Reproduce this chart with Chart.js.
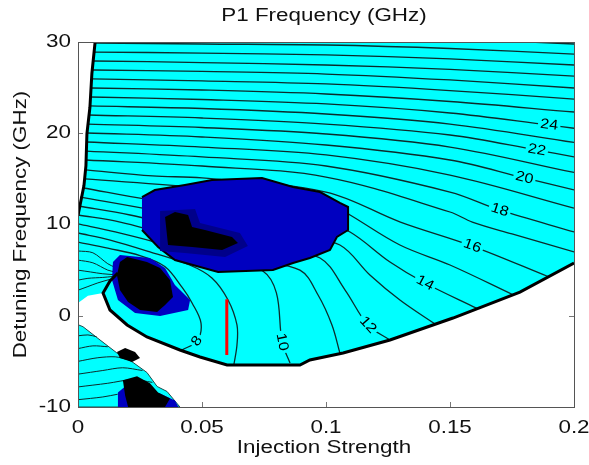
<!DOCTYPE html>
<html>
<head>
<meta charset="utf-8">
<title>P1 Frequency (GHz)</title>
<script src="https://cdn.jsdelivr.net/npm/chart.js@4.4.1/dist/chart.umd.min.js"></script>
<style>
    html, body { margin: 0; padding: 0; background: #ffffff; }
    #wrap { width: 589px; height: 465px; position: relative; }
</style>
</head>
<body>
<div id="wrap"><canvas id="p1Canvas"></canvas></div>
<script>
// axes
const xTicks = [0, 0.05, 0.1, 0.15, 0.2];
const xTickLabels = ['0', '0.05', '0.1', '0.15', '0.2'];
const yTicks = [-10, 0, 10, 20, 30];
const yTickLabels = ['-10', '0', '10', '20', '30'];

// locked (P1) region, points are [injection strength, detuning GHz]
const cyanUpper = [[0.0069,30],[0.0056,26.55],[0.0048,22.82],[0.0036,19.97],[0.0032,16.46],[0.0024,14.27],[0.0008,12.08],[0,10.99],
    [0,1.4],[0.004,2.2],[0.0101,2.49],[0.0129,0.63],[0.0198,-1.01],[0.0278,-2.33],[0.0411,-3.75],[0.0492,-4.52],[0.0601,-5.4],
    [0.0895,-5.4],[0.0935,-4.85],[0.1069,-4.08],[0.1258,-2.66],[0.1512,-0.25],[0.1782,2.6],[0.2,5.78],[0.2,30]];
const cyanLower = [[0,-0.98],[0.002,-1.2],[0.0089,-2.66],[0.0157,-4.08],[0.0222,-5.12],[0.0278,-6.22],[0.0319,-7.75],
    [0.0359,-8.3],[0.0411,-10],[0,-10]];

// region boundaries
const edgeLeft = [[0.0069,30],[0.0056,26.55],[0.0048,22.82],[0.0036,19.97],[0.0032,16.46],[0.0024,14.27],[0.0008,12.08],[0,10.99]];
const edgeLower = [[0.0161,4.69],[0.0129,3.81],[0.0101,2.49],[0.0129,0.63],[0.0198,-1.01],[0.0278,-2.33],[0.0411,-3.75],
    [0.0492,-4.52],[0.0601,-5.4],[0.0895,-5.4],[0.0935,-4.85],[0.1069,-4.08],[0.1258,-2.66],[0.1512,-0.25],[0.1782,2.6],[0.2,5.78]];

// other dynamics (blue) and chaos (black) patches
const blobBlue = [[0.0258,13.01],[0.031,13.78],[0.0431,14.33],[0.054,14.88],[0.0742,15.1],[0.0867,14.11],[0.0976,13.56],
    [0.1056,12.36],[0.1089,11.92],[0.1089,9.4],[0.1044,8.63],[0.1016,7.2],[0.0935,6.33],[0.0867,5.78],[0.0786,5.01],
    [0.0565,4.79],[0.0391,6.11],[0.0323,7.53],[0.0258,9.4]];
const blobDark = [[0.0331,11.48],[0.0472,11.7],[0.0492,10.16],[0.0653,9.07],[0.0685,7.64],[0.0593,6.44],[0.0431,6.88],[0.0331,7.09]];
const blobBlack = [[0.0351,10.82],[0.0391,11.37],[0.0444,11.04],[0.046,9.73],[0.0512,9.4],[0.0621,8.63],[0.0645,7.97],
    [0.0581,7.2],[0.046,7.53],[0.0363,7.75]];
const pocketBlue = [[0.0169,6.66],[0.029,6.33],[0.0351,5.23],[0.0391,3.37],[0.0452,1.73],[0.0444,0.63],[0.0331,-0.03],
    [0.023,0.3],[0.0161,1.73],[0.0137,3.92],[0.0141,5.89]];
const pocketBlack = [[0.0198,6.44],[0.0278,5.89],[0.0331,5.23],[0.0371,3.92],[0.0383,2.06],[0.0351,1.18],[0.0319,0.41],
    [0.025,0.63],[0.0202,1.5],[0.0169,2.82],[0.0157,4.46],[0.0169,5.89]];
const baseBlue = [[0.0161,-8.41],[0.019,-7.75],[0.0331,-8.52],[0.0391,-9.29],[0.0405,-10],[0.0161,-10]];
const baseBlack = [[0.0181,-7.07],[0.0238,-6.63],[0.029,-7.4],[0.0323,-8.41],[0.0371,-9.07],[0.0351,-10],[0.0202,-10],[0.019,-8.74]];
const baseBit = [[0.0157,-3.97],[0.019,-3.53],[0.023,-3.97],[0.025,-4.63],[0.0218,-5.07],[0.0169,-4.63]];

// P1 frequency contours (GHz)
const level8 = [[0,8.08],[0.012,7.4],[0.025,6.6],[0.035,5.4],[0.042,3.1],[0.046,1.4],[0.0496,-0.8],[0.048,-2.77],[0.0419,-3.75]];
const level9 = [[0,9.07],[0.013,8.3],[0.029,7.0],[0.045,5.56],[0.054,4.14],[0.0605,1.73],[0.0641,-1.01],[0.0641,-3.21],[0.0629,-5.29]];
const level10 = [[0,10.06],[0.015,9.18],[0.035,7.8],[0.06,6.0],[0.0745,4.9],[0.08,2.5],[0.0823,-2.88],[0.0855,-5.18]];
const level11 = [[0,11.04],[0.017,10.27],[0.041,8.52],[0.07,6.11],[0.0895,5.0],[0.0968,2.27],[0.1024,-1.01],[0.1056,-4.08]];
const level12 = [[0,12.03],[0.021,11.04],[0.049,9.18],[0.08,7.0],[0.0976,6.33],[0.1077,2.82],[0.1169,-1.01],[0.1258,-2.66]];
const level13 = [[0.0008,13.01],[0.03,11.59],[0.06,9.95],[0.09,8.5],[0.1056,7.75],[0.1177,4.47],[0.1298,1.73],[0.144,-0.91]];
const level14 = [[0.0024,14.0],[0.029,12.69],[0.05,12.0],[0.1,10.0],[0.1097,9.18],[0.1258,5.89],[0.1399,3.59],[0.1609,0.8]];
const level15 = [[0.0028,14.99],[0.05,14.0],[0.1,12.5],[0.1097,11.04],[0.1298,7.75],[0.15,5.56],[0.1754,2.3]];
const level16 = [[0.0032,15.98],[0.03,15.32],[0.05,15.1],[0.1,13.56],[0.13,10.27],[0.159,7.64],[0.1895,4.3]];
const level17 = [[0.0032,17.07],[0.05,16.41],[0.1,15.2],[0.15,11.37],[0.159,10.26],[0.175,8.96],[0.2,7.0]];
const level18 = [[0.0034,18.05],[0.05,17.4],[0.1,16.41],[0.15,13.56],[0.17,11.59],[0.2,9.18]];
const level19 = [[0.0036,19.04],[0.05,18.49],[0.1,17.62],[0.15,15.42],[0.2,11.8]];
const level20 = [[0.0036,20.03],[0.05,19.59],[0.1,18.71],[0.15,17.07],[0.18,15.1],[0.2,13.8]];
const level21 = [[0.004,21.01],[0.05,20.63],[0.1,19.92],[0.15,18.49],[0.2,15.7]];
const level22 = [[0.0044,22.0],[0.05,21.67],[0.1,21.01],[0.15,19.81],[0.185,18.16],[0.2,17.4]];
const level23 = [[0.0048,22.99],[0.05,22.71],[0.1,22.11],[0.15,21.01],[0.2,19.0]];
const level24 = [[0.005,23.97],[0.05,23.7],[0.1,23.21],[0.15,22.22],[0.19,20.9],[0.2,20.55]];
const level25 = [[0.0052,24.96],[0.05,24.74],[0.1,24.3],[0.15,23.48],[0.2,22.33]];
const level26 = [[0.0056,25.95],[0.05,25.73],[0.1,25.4],[0.15,24.68],[0.2,23.75]];
const level27 = [[0.006,26.93],[0.05,26.77],[0.1,26.49],[0.15,25.84],[0.2,24.96]];
const level28 = [[0.0063,27.92],[0.05,27.75],[0.1,27.48],[0.15,26.99],[0.2,26.27]];
const level29 = [[0.0065,28.9],[0.05,28.79],[0.1,28.58],[0.15,28.14],[0.2,27.48]];
const level30 = [[0.0069,29.89],[0.05,29.78],[0.1,29.67],[0.15,29.29],[0.2,28.68]];
const level31 = [[0.1,30.7],[0.15,30.35],[0.2,29.78]];

// short unlabeled contour pieces near the left edge
const fanUpper1 = [[0,7.1],[0.006,6.9],[0.012,5.7],[0.015,5.3]];
const fanUpper2 = [[0,6.1],[0.006,5.8],[0.012,5.0],[0.015,4.8]];
const fanUpper3 = [[0,5.0],[0.005,4.8],[0.01,4.6],[0.015,4.5]];
const fanUpper4 = [[0,3.9],[0.004,4.1],[0.01,4.2],[0.014,4.3]];
const fanUpper5 = [[0,2.8],[0.004,3.2],[0.008,3.6],[0.013,4.0]];
const fanLower1 = [[0,-2.2],[0.004,-2.1],[0.0075,-2.3]];
const fanLower2 = [[0,-3.6],[0.006,-3.3],[0.012,-3.4]];
const fanLower3 = [[0,-5.0],[0.008,-4.6],[0.015,-4.5],[0.02,-4.8]];
const fanLower4 = [[0,-6.4],[0.01,-6.0],[0.018,-5.7],[0.026,-6.0]];
const fanLower5 = [[0,-7.8],[0.012,-7.4],[0.022,-7.0],[0.03,-7.3]];
const fanLower6 = [[0,-9.2],[0.01,-8.9],[0.016,-8.6]];

const contourLevels = [8, 9, 10, 11, 12, 13, 14, 15, 16, 17, 18, 19, 20, 21, 22, 23, 24, 25, 26, 27, 28, 29, 30, 31];
const contourPaths = [level8, level9, level10, level11, level12, level13, level14, level15, level16, level17, level18,
    level19, level20, level21, level22, level23, level24, level25, level26, level27, level28, level29, level30, level31];
const fanPaths = [fanUpper1, fanUpper2, fanUpper3, fanUpper4, fanUpper5,
    fanLower1, fanLower2, fanLower3, fanLower4, fanLower5, fanLower6];

// inline labels: level and the point of its path where the label sits
const labelLevels = [8, 10, 12, 14, 16, 18, 20, 22, 24];
const labelPointIndex = [7, 6, 6, 6, 5, 4, 4, 4, 4];

// operating point marker
const markerX = [0.06, 0.06];
const markerY = [1.8, -4.3];

const CYAN = '#00ffff';
const BLUE = '#0000c0';
const LINE_COLOR = '#0c2c2c';
const FONT = '"Liberation Sans", Arial, Helvetica, sans-serif';

const toPoints = (path) => path.map(p => ({ x: p[0], y: p[1] }));

function areaSet(path, fillColor, edgeColor, edgeWidth) {
    return {
        data: toPoints(path),
        showLine: true,
        fill: 'shape',
        backgroundColor: fillColor,
        borderColor: edgeColor || fillColor,
        borderWidth: edgeWidth || 0,
        pointRadius: 0,
        tension: 0
    };
}

function lineSet(path, color, width, tension) {
    return {
        data: toPoints(path),
        showLine: true,
        fill: false,
        borderColor: color,
        borderWidth: width,
        pointRadius: 0,
        tension: tension
    };
}

function drawStretched(ctx, text, x, y, angle, align, size, stretch) {
    ctx.save();
    ctx.translate(x, y);
    ctx.rotate(angle);
    ctx.scale(stretch, 1);
    ctx.font = size + 'px ' + FONT;
    ctx.textAlign = align;
    ctx.textBaseline = 'middle';
    ctx.fillText(text, 0, 0);
    ctx.restore();
}

const axesPlugin = {
    id: 'matlabAxes',
    beforeDatasetsDraw(chart) {
        const ctx = chart.ctx;
        const a = chart.chartArea;
        const sx = chart.scales.x, sy = chart.scales.y;
        ctx.save();
        ctx.strokeStyle = '#777';
        ctx.lineWidth = 1;
        ctx.beginPath();
        xTicks.forEach(v => {
            const px = Math.round(sx.getPixelForValue(v)) + 0.5;
            ctx.moveTo(px, a.bottom); ctx.lineTo(px, a.bottom - 5);
            ctx.moveTo(px, a.top); ctx.lineTo(px, a.top + 5);
        });
        yTicks.forEach(v => {
            const py = Math.round(sy.getPixelForValue(v)) + 0.5;
            ctx.moveTo(a.left, py); ctx.lineTo(a.left + 5, py);
            ctx.moveTo(a.right, py); ctx.lineTo(a.right - 5, py);
        });
        ctx.stroke();
        ctx.restore();
    },
    afterDatasetsDraw(chart) {
        const ctx = chart.ctx;
        const a = chart.chartArea;
        const sx = chart.scales.x, sy = chart.scales.y;

        // contour labels, placed on their lines
        labelLevels.forEach((level, i) => {
            const path = contourPaths[contourLevels.indexOf(level)];
            const k = labelPointIndex[i];
            const p = path[k], p0 = path[k - 1], p1 = path[Math.min(k + 1, path.length - 1)];
            const px = sx.getPixelForValue(p[0]), py = sy.getPixelForValue(p[1]);
            let ang = Math.atan2(sy.getPixelForValue(p1[1]) - sy.getPixelForValue(p0[1]),
                                 sx.getPixelForValue(p1[0]) - sx.getPixelForValue(p0[0]));
            if (ang > Math.PI / 2) ang -= Math.PI;
            if (ang < -Math.PI / 2) ang += Math.PI;
            ctx.save();
            ctx.translate(px, py);
            ctx.rotate(ang);
            ctx.scale(1.15, 1);
            ctx.font = '14px ' + FONT;
            const w = ctx.measureText(String(level)).width;
            ctx.fillStyle = CYAN;
            ctx.fillRect(-w / 2 - 2, -6, w + 4, 12);
            ctx.fillStyle = '#000';
            ctx.textAlign = 'center';
            ctx.textBaseline = 'middle';
            ctx.fillText(String(level), 0, 0);
            ctx.restore();
        });

        // box
        ctx.save();
        ctx.strokeStyle = '#555';
        ctx.lineWidth = 1;
        ctx.strokeRect(Math.round(a.left) + 0.5, Math.round(a.top) + 0.5,
                       Math.round(a.right - a.left), Math.round(a.bottom - a.top));

        // tick labels, axis titles, title
        ctx.fillStyle = '#111';
        xTicks.forEach((v, i) => {
            drawStretched(ctx, xTickLabels[i], sx.getPixelForValue(v), a.bottom + 21, 0, 'center', 17.5, 1.28);
        });
        yTicks.forEach((v, i) => {
            drawStretched(ctx, yTickLabels[i], a.left - 7, sy.getPixelForValue(v), 0, 'right', 17.5, 1.28);
        });
        const cx = (a.left + a.right) / 2 - 2;
        drawStretched(ctx, 'P1 Frequency (GHz)', cx, a.top - 26, 0, 'center', 17.5, 1.28);
        drawStretched(ctx, 'Injection Strength', cx, a.bottom + 41, 0, 'center', 17.5, 1.28);
        drawStretched(ctx, 'Detuning Frequency (GHz)', a.left - 57, (a.top + a.bottom) / 2, -Math.PI / 2, 'center', 17.5, 1.28);
        ctx.restore();
    }
};

function create_Chart() {
    // bottom to top
    const layers = [];
    layers.push(areaSet(cyanUpper, CYAN));
    layers.push(areaSet(cyanLower, CYAN, '#1a4a4a', 1));
    contourPaths.forEach(path => layers.push(lineSet(path, LINE_COLOR, 1.3, 0.35)));
    fanPaths.forEach(path => layers.push(lineSet(path, LINE_COLOR, 1, 0.3)));
    layers.push(areaSet(blobBlue, BLUE, '#000', 2));
    layers.push(areaSet(blobDark, '#00008a'));
    layers.push(areaSet(blobBlack, '#000'));
    layers.push(areaSet(pocketBlue, BLUE));
    layers.push(areaSet(pocketBlack, '#000'));
    layers.push(areaSet(baseBlue, BLUE));
    layers.push(areaSet(baseBlack, '#000'));
    layers.push(areaSet(baseBit, '#000'));
    layers.push(lineSet(edgeLeft, '#000', 3, 0));
    layers.push(lineSet(edgeLower, '#000', 3, 0));
    layers.push(lineSet(markerX.map((x, i) => [x, markerY[i]]), '#ff0000', 3, 0));
    layers.forEach((ds, i) => { ds.order = layers.length - i; });

    const context = document.getElementById('p1Canvas').getContext('2d');
    new Chart(context, {
        type: 'scatter',
        data: { datasets: layers },
        options: {
            responsive: true,
            maintainAspectRatio: false,
            animation: false,
            layout: { padding: { left: 78, right: 15, top: 42, bottom: 58 } },
            scales: {
                x: { type: 'linear', min: 0, max: 0.2, display: false },
                y: { type: 'linear', min: -10, max: 30, display: false }
            },
            plugins: {
                legend: { display: false },
                tooltip: { enabled: false }
            }
        },
        plugins: [axesPlugin]
    });
}

window.onload = create_Chart;
</script>
</body>
</html>
